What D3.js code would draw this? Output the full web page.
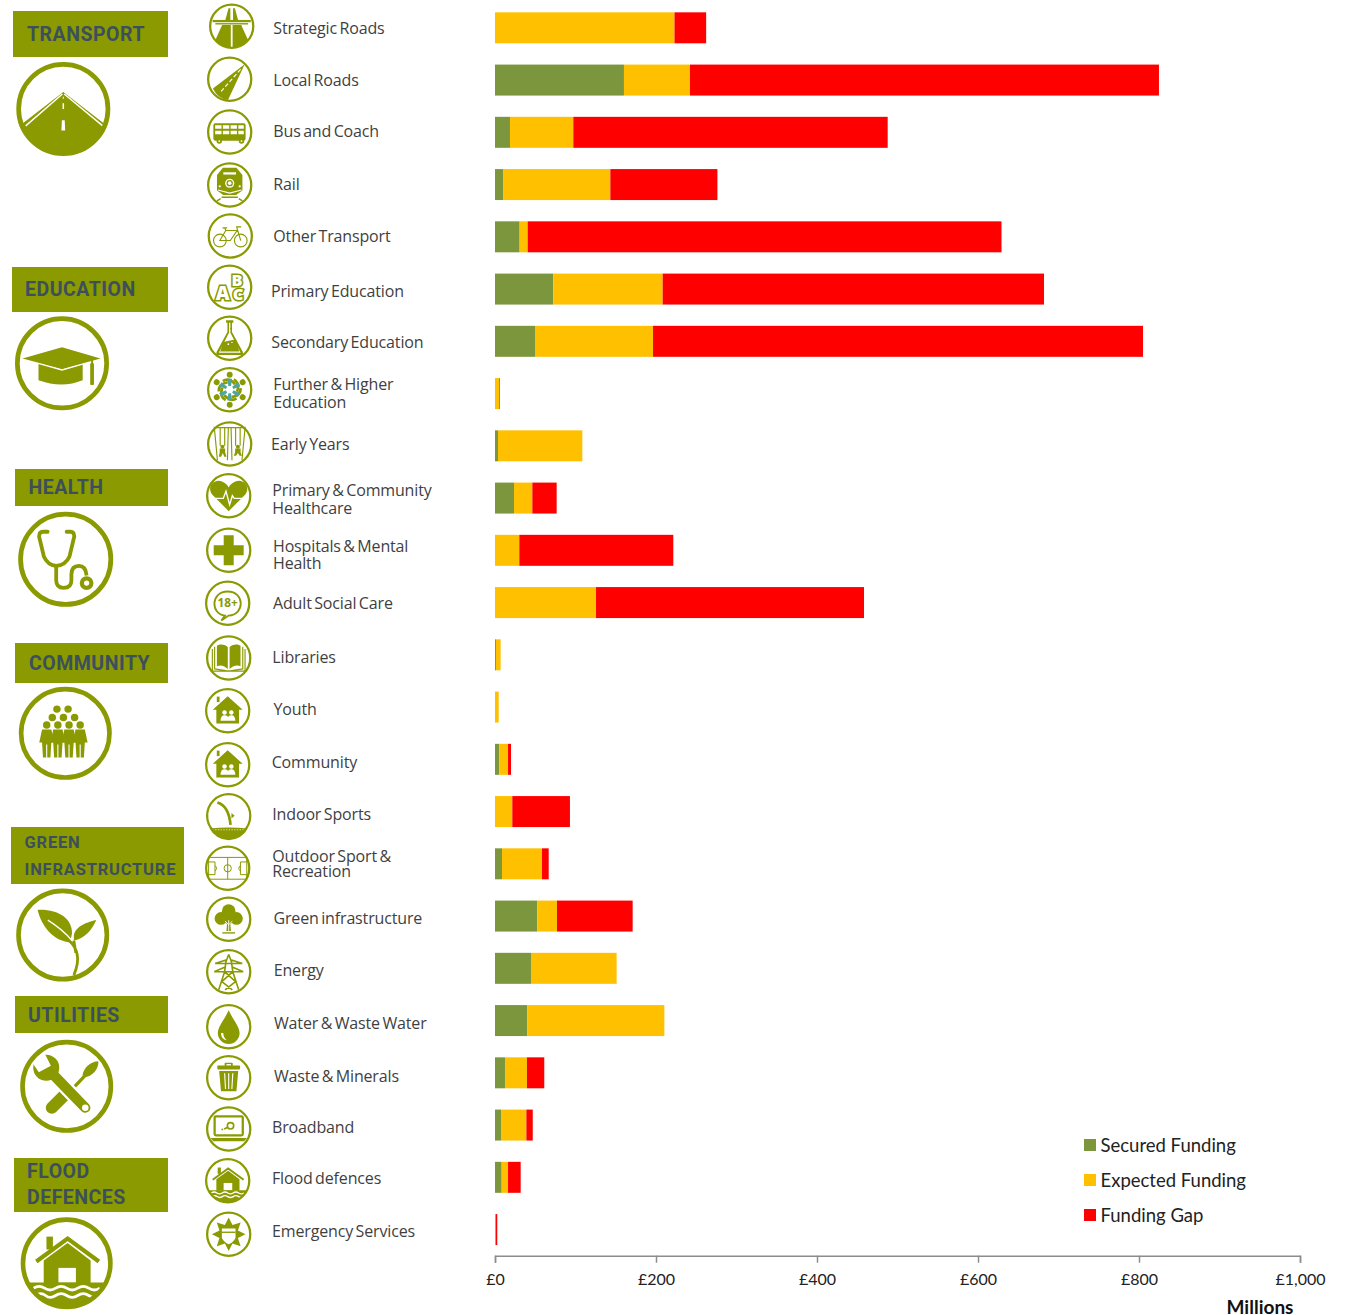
<!DOCTYPE html>
<html>
<head>
<meta charset="utf-8">
<script src="https://cdn.jsdelivr.net/npm/d3@7"></script>
<style>
    html, body { margin: 0; padding: 0; background: #fff; overflow: hidden; }
    svg { display: block; }
    .icon { fill: #8a9a00; }
    .icon .w { fill: #fff; }
    .icon .l { fill: none; stroke: #8a9a00; }
    .icon .lw { fill: none; stroke: #fff; }
    .rowLabel { font-family: "Open Sans"; font-size: 16px; letter-spacing: -0.15px; word-spacing: -1.5px; fill: #3f3f3f; }
    .panelLabel { font-family: Roboto; font-weight: 700; fill: #3c4f5c; }
    .x.axis text { font-family: Lato; font-size: 16px; fill: #222; }
    .x.axis path, .x.axis line { stroke: #8c8c8c; stroke-width: 1.5; }
    .legendLabel { font-family: Lato; font-size: 18.5px; fill: #222; }
</style>
</head>
<body>
<div id="chart"></div>
<script>
// values in GBP millions
var categories = ["Strategic Roads", "Local Roads", "Bus and Coach", "Rail", "Other Transport",
    "Primary Education", "Secondary Education", "Further & Higher Education", "Early Years",
    "Primary & Community Healthcare", "Hospitals & Mental Health", "Adult Social Care",
    "Libraries", "Youth", "Community", "Indoor Sports", "Outdoor Sport & Recreation",
    "Green infrastructure", "Energy", "Water & Waste Water", "Waste & Minerals",
    "Broadband", "Flood defences", "Emergency Services"];
var secured = [0, 160.2, 18.6, 10, 30.6, 72.5, 49.7, 0, 3.7, 23.6, 0, 0,
    1.2, 0, 5.4, 0, 8.7, 52.6, 44.7, 40.2, 12.4, 7.5, 8.3, 0];
var expected = [223, 82, 78.7, 133.3, 10, 135.8, 146.6, 5, 104.8, 22.8, 30.2, 125.5,
    5.8, 4.6, 10.8, 21.5, 49.7, 24.4, 106.4, 170.2, 27.3, 31.5, 7.9, 0.8];
var gap = [39.3, 582.6, 390.5, 133, 588.6, 473.7, 608.7, 0.8, 0, 30.2, 191.3, 332.9,
    0, 0, 3.7, 71.6, 8.3, 94, 0, 0, 21.5, 7.9, 15.7, 2];
var seriesNames = ["Secured Funding", "Expected Funding", "Funding Gap"];
var seriesColors = ["#7b963c", "#ffc000", "#ff0000"];
var xTicks = [0, 200, 400, 600, 800, 1000];

// where the picture puts each row's icon and label, same order as categories
var rowIcons = ["strategic", "local", "bus", "rail", "bike", "abc", "flask", "circle", "swing", "heart", "plus", "adult",
    "book", "house", "house", "diver", "pitch", "tree", "pylon", "drop", "bin", "laptop", "flood", "badge"];
var iconX = [231.7, 229.7, 229.7, 229.7, 230.3, 229.7, 229.7, 229.7, 229.7, 228.7, 228.7, 227.7,
    228.7, 227.7, 227.7, 228.7, 227.7, 228.7, 228.7, 228.7, 228.7, 228.7, 227.7, 228.7];
var iconY = [26.3, 79.3, 132, 185, 236, 287.3, 338.3, 389.7, 444, 495.7, 550.3, 603.3,
    658, 710.7, 764.7, 815.7, 868.3, 919.3, 971.7, 1026.7, 1077.7, 1129, 1180.7, 1234.3];
var labelX = [273.3, 273.3, 273.3, 273.3, 273.3, 271, 271.3, 273.3, 271, 272.3, 273, 273,
    272.3, 273.5, 271.7, 272.3, 272.3, 273.5, 273.7, 274, 274, 272, 272, 272];
var labelLines = [["Strategic Roads"], ["Local Roads"], ["Bus and Coach"], ["Rail"], ["Other Transport"],
    ["Primary Education"], ["Secondary Education"], ["Further & Higher", "Education"], ["Early Years"],
    ["Primary & Community", "Healthcare"], ["Hospitals & Mental", "Health"], ["Adult Social Care"],
    ["Libraries"], ["Youth"], ["Community"], ["Indoor Sports"], ["Outdoor Sport &", "Recreation"],
    ["Green infrastructure"], ["Energy"], ["Water & Waste Water"], ["Waste & Minerals"],
    ["Broadband"], ["Flood defences"], ["Emergency Services"]];
var labelBase = [[34], [86], [137], [190], [242], [297], [348], [390, 408], [450], [496, 514], [552, 569], [609],
    [663], [715], [768], [820], [862, 877], [924], [976], [1029], [1082], [1133], [1184], [1237]];

// left hand theme panels
var panels = [
    { lines: ["TRANSPORT"], x: 13, y: 11, w: 155, h: 46, tx: 27, base: [41], size: 19.5, ls: 0.5, icon: "road", cx: 63.3, cy: 109, r: 47 },
    { lines: ["EDUCATION"], x: 12, y: 267, w: 156, h: 45, tx: 25, base: [296], size: 19.5, ls: 0.5, icon: "cap", cx: 62, cy: 363.3, r: 47 },
    { lines: ["HEALTH"], x: 15, y: 469, w: 153, h: 37, tx: 28.5, base: [494], size: 19.5, ls: 0.5, icon: "stetho", cx: 65.7, cy: 559.3, r: 47.5 },
    { lines: ["COMMUNITY"], x: 15, y: 643, w: 153, h: 40, tx: 29, base: [670], size: 19.5, ls: 0.5, icon: "people", cx: 65.3, cy: 733.3, r: 46.5 },
    { lines: ["GREEN", "INFRASTRUCTURE"], x: 11, y: 827, w: 173, h: 57, tx: 24.5, base: [848, 875], size: 16.5, ls: 0.8, icon: "leaf", cx: 62.7, cy: 935, r: 46.5 },
    { lines: ["UTILITIES"], x: 15, y: 996, w: 153, h: 37, tx: 28, base: [1022], size: 19.5, ls: 0.5, icon: "tools", cx: 66.7, cy: 1086.3, r: 46.5 },
    { lines: ["FLOOD", "DEFENCES"], x: 14, y: 1158, w: 154, h: 54, tx: 27, base: [1178, 1204], size: 19.5, ls: 0.5, icon: "flood", cx: 66.7, cy: 1263.3, r: 46 }
];

// icon artwork, drawn on a -50..50 box
function starPoints(n, r1, r2) {
    return d3.range(n * 2).map(function (i) {
        var a = i * Math.PI / n - Math.PI / 2, r = i % 2 ? r2 : r1;
        return (r * Math.cos(a)).toFixed(1) + "," + (r * Math.sin(a)).toFixed(1);
    }).join(" ");
}

function circlePeople() {
    return d3.range(6).map(function (i) {
        var a = i * 60;
        return '<g transform="rotate(' + a + ')"><circle cy="-33" r="6.5"/>' +
            '<path class="l" stroke-width="6" d="M-15,-19Q-2,-28 12,-12"/>' +
            '<path d="M-5,-24L5,-24L3,-8L-3,-8Z" style="fill:#4fa5a0"/></g>';
    }).join("");
}

function crowd() {
    var heads = '<circle cx="-9" cy="-26" r="4"/><circle cx="3" cy="-26" r="4"/>' +
        '<circle cx="-14" cy="-17" r="4"/><circle cx="-2" cy="-17" r="4"/><circle cx="10" cy="-17" r="4"/>';
    return heads + [-20, -8, 4, 16].map(function (x) {
        return '<circle cx="' + x + '" cy="-9" r="4"/>' +
            '<path d="M' + (x - 5) + ',-4L' + (x + 5) + ',-4L' + (x + 8) + ',10L' + (x + 5) + ',10L' + (x + 4) + ',26L' +
            (x + 0.6) + ',26L' + (x + 0.6) + ',12L' + (x - 0.6) + ',12L' + (x - 0.6) + ',26L' + (x - 4) + ',26L' +
            (x - 5) + ',10L' + (x - 8) + ',10Z"/>';
    }).join("");
}

function floodArt() {
    return '<path class="l" stroke-width="4.5" d="M-33,-2L1,-27L35,-2"/><rect x="-22" y="-29" width="7" height="14"/>' +
        '<path d="M-25,-3L1,-22L26,-3L26,22L-25,22Z"/><rect class="w" x="-9" y="5" width="19" height="16"/>' +
        '<path d="M-42,21L42,21A47,47,0,0,1,-42,21Z"/>' +
        '<path class="lw" stroke-width="3" d="M-36,27q6,-4 12,0t12,0t12,0t12,0t12,0t12,0"/>' +
        '<path class="lw" stroke-width="3" d="M-34,35q6,-4 11,0t11,0t12,0t12,0t12,0t11,0"/>';
}

function homeArt() {
    return '<rect x="-24" y="-31" width="6" height="12"/><path d="M0,-32L33,-2L25,-2L25,28L-25,28L-25,-2L-33,-2Z"/>' +
        '<circle class="w" cx="-7" cy="4" r="5"/><circle class="w" cx="8" cy="4" r="5"/>' +
        '<path class="w" d="M-16,22Q-15,10 -7,10Q0,10 1,14Q2,10 8,10Q16,10 17,22Z"/>';
}

var iconArt = {
    road: '<path d="M0,-18L-44,16A47,47,0,0,0,44,16Z"/><path class="lw" stroke-width="1.6" d="M-1,-16L-40,18M1,-16L42,18"/>' +
        '<path class="w" d="M-.5,-13h1v2h-1ZM-.8,-6h1.6v6h-1.6ZM-1.5,12h3l.5,11h-4Z"/>',
    strategic: '<path d="M-7,-40L-3,-40L-3,-14L-14,-14ZM7,-40L3,-40L3,-14L14,-14Z"/><rect x="-42" y="-14" width="84" height="5"/>' +
        '<rect x="-36" y="-7" width="72" height="3"/><path d="M-21,-3L-2,-3L-2,46A46,46,0,0,1,-36,30ZM21,-3L2,-3L2,46A46,46,0,0,0,36,30Z"/>',
    local: '<path d="M33,-33L-37,20A46,46,0,0,0,-4,46Z"/><path class="lw" stroke-width="2.5" stroke-dasharray="9 5" d="M24,-22L-20,28"/>',
    bus: '<rect x="-36" y="-19" width="71" height="38" rx="4"/>' +
        '<path class="w" d="M-32,-15h14v8h-14ZM-15,-15h14v8h-14ZM2,-15h14v8h-14ZM19,-15h12v8h-12ZM-32,-3h14v8h-14ZM-15,-3h14v8h-14ZM2,-3h14v8h-14ZM19,-3h12v8h-12Z"/>' +
        '<circle cx="-23" cy="20" r="6"/><circle cx="26" cy="20" r="6"/><circle class="w" cx="-23" cy="20" r="2"/><circle class="w" cx="26" cy="20" r="2"/>',
    rail: '<path d="M-15,-38L15,-38L28,-22L28,12L14,22L-14,22L-28,12L-28,-22Z"/><rect class="w" x="-14" y="-28" width="28" height="5"/>' +
        '<circle class="w" cy="-4" r="10"/><circle cy="-4" r="7"/><circle class="w" cy="-4" r="4"/>' +
        '<circle class="w" cx="-22" cy="3" r="2.5"/><circle class="w" cx="22" cy="3" r="2.5"/><path class="lw" stroke-width="2.5" d="M-26,11L0,18L26,11"/>' +
        '<path class="l" stroke-width="3" d="M-28,35L-20,30M28,35L20,30M-18,27L18,27"/>',
    bike: '<g class="l" stroke-width="2.5"><circle class="l" cx="-23" cy="10" r="14"/><circle class="l" cx="23" cy="10" r="14"/>' +
        '<path class="l" d="M-23,10L-10,-12L15,-12L0,10ZM-23,10L0,10M23,10L14,-20L24,-20M-10,-12L-12,-18M-17,-18L-7,-18"/></g>',
    abc: '<g style="font-family:\'Open Sans\';font-weight:800;paint-order:stroke">' +
        '<text class="w" stroke="#8a9a00" stroke-width="7" x="4" y="-3" font-size="36">B</text>' +
        '<text class="w" stroke="#8a9a00" stroke-width="7" x="-31" y="28" font-size="42">A</text>' +
        '<text class="w" stroke="#8a9a00" stroke-width="7" x="7" y="29" font-size="36">C</text></g>',
    flask: '<path d="M-8,-40L8,-40L8,-34L5,-34L5,-14L29,30Q31,37 24,37L-24,37Q-31,37 -29,30L-5,-14L-5,-34L-8,-34Z"/>' +
        '<path class="w" d="M-1.5,-34L1.5,-34L1.5,-12L24,32L-24,32L-1.5,-12Z"/><path d="M-14,8L14,2L21,29L-21,29Z"/><circle class="w" cx="-3" cy="13" r="2"/><circle class="w" cx="5" cy="9" r="1.5"/><circle cx="2" cy="-22" r="1.5"/>',
    circle: circlePeople(),
    swing: '<path class="l" stroke-width="2.5" d="M-32,-36L32,-36M-34,-38L-27,36M34,-38L27,36M-3,-36L-5,36M3,-36L5,36M-21,-36L-21,4M-11,-36L-11,4M13,-36L13,4M23,-36L23,4"/>' +
        '<circle cx="-16" cy="6" r="4.5"/><circle cx="18" cy="6" r="4.5"/><path d="M-22,10L-10,10L-10,18L-7,28L-12,28L-15,20L-19,28L-24,28L-22,18ZM12,10L24,10L24,18L27,26L22,26L18,20L14,26L9,26L12,18Z"/>',
    heart: '<path d="M0,34L-36,-2C-50,-20 -32,-38 -16,-32C-8,-29 -2,-24 0,-18C2,-24 8,-29 16,-32C32,-38 50,-20 36,-2Z"/>' +
        '<path class="lw" stroke-width="3" d="M-46,6L-12,6L-6,-10L2,20L8,0L12,6L46,6"/>',
    plus: '<path d="M-11,-33H11V-11H33V11H11V33H-11V11H-33V-11H-11Z"/>',
    adult: '<path class="l" stroke-width="4" d="M-6,27C-38,24 -38,-26 0,-26C38,-26 38,26 2,27L-14,38Z"/>' +
        '<text x="0" y="9" text-anchor="middle" font-size="26" font-weight="700" style="font-family:\'Open Sans\'">18+</text>',
    book: '<path d="M-2,-24C-12,-32 -20,-30 -26,-27L-26,18C-18,15 -10,17 -2,24ZM2,-24C12,-32 20,-30 26,-27L26,18C18,15 10,17 2,24Z"/>' +
        '<path class="l" stroke-width="2.5" d="M-31,-25L-31,24L-4,28L4,28L31,24L31,-25M-36,-20L-36,29L36,29L36,-20"/>',
    house: homeArt(),
    diver: '<path class="l" stroke-width="6" d="M-25,-29Q0,-22 4,20"/><path d="M6,-6L13,0L6,6Z"/><path d="M-42,28Q0,24 42,28A47,47,0,0,1,-42,28Z"/>' +
        '<path class="lw" stroke-width="1.5" stroke-dasharray="3 3" d="M-36,31L36,31"/>',
    pitch: '<g><rect class="l" stroke-width="2.2" x="-42" y="-24" width="84" height="48"/><path class="l" stroke-width="2.2" d="M0,-24V24M-42,-14H-28V14H-42M42,-14H28V14H42M-28,-6Q-21,0 -28,6M28,-6Q21,0 28,6"/><circle class="l" stroke-width="2.2" r="8"/></g>',
    tree: '<circle cy="-18" r="15"/><circle cx="-17" cy="-2" r="14"/><circle cx="17" cy="-2" r="14"/><circle cy="-4" r="14"/>' +
        '<path d="M-3,4L3,4L5,26L-5,26Z"/><path class="lw" stroke-width="2" d="M0,26L0,2M0,12L-8,4M0,12L8,4"/><path class="l" stroke-width="3" d="M-14,30L14,30"/>',
    pylon: '<path class="l" stroke-width="3.5" d="M0,-38L-6,-22L-9,0L-22,40M0,-38L6,-22L9,0L22,40M-30,-18L30,-18M-30,-18L-6,-26M30,-18L6,-26M-32,0L32,0M-32,0L-9,-10M32,0L9,-10M-9,0L15,22M9,0L-15,22M-15,22L8,40M15,22L-8,40"/>',
    drop: '<path d="M0,-36C10,-14 24,0 24,14A24,24,0,0,1,-24,14C-24,0 -10,-14 0,-36Z"/><path class="w" d="M-17,14Q-17,28 -4,30Q-12,24 -12,14Z"/>',
    bin: '<rect x="-9" y="-33" width="18" height="7" rx="2"/><rect class="w" x="-5" y="-30" width="10" height="4"/><rect x="-25" y="-27" width="50" height="9" rx="2"/>' +
        '<path d="M-21,-15L21,-15L17,30L-17,30Z"/><path class="lw" stroke-width="2.5" d="M-9,-10L-7,25M0,-10L0,25M9,-10L7,25"/>',
    laptop: '<rect class="l" stroke-width="5" x="-31" y="-28" width="62" height="42" rx="3"/><path d="M-40,20L40,20L34,27L-34,27Z"/>' +
        '<circle class="l" stroke-width="3.5" cx="4" cy="-7" r="7"/><path class="l" stroke-width="3.5" d="M-2,-4L-10,0"/><circle cx="-14" cy="1" r="2"/>',
    flood: floodArt(),
    badge: '<polygon points="' + starPoints(8, 37, 22) + '"/><path class="w" d="M-15,-13L15,-13L15,8Q10,18 0,22Q-10,18 -15,8Z"/><rect x="-15" y="-6" width="30" height="3"/>',
    cap: '<path d="M-25,0L22,0L22,18Q0,27 -25,18Z"/><path class="lw" stroke-width="2" d="M-42,-5L0,7L41,-5"/>' +
        '<path d="M-42,-5L0,-17L41,-5L0,6Z"/><rect x="30" y="0" width="4" height="23" rx="1"/><rect x="31" y="-4" width="2" height="6"/>',
    stetho: '<g class="l"><path class="l" stroke-width="4" stroke-linecap="round" d="M-19,-29L-24,-29Q-28,-29 -28,-24L-23,-3Q-19,6 -10,7Q0,6 4,-3L9,-24Q9,-29 5,-29L1,-29"/>' +
        '<path class="l" stroke-width="4" d="M-10,7L-10,22Q-10,30 -2,30Q6,30 6,22L6,16Q6,7 14,7Q21,7 22,17"/><circle class="l" stroke-width="4.5" cx="22" cy="25" r="5"/></g>',
    people: crowd(),
    leaf: '<path class="l" stroke-width="3" d="M12,43C20,24 15,14 7,6M14,19L12,6"/><path d="M-27,-27C-5,-28 10,-18 10,-2L8,8C-10,6 -22,-8 -27,-27Z"/>' +
        '<path d="M36,-16C28,-14 14,-10 12,0L12,6C24,4 32,-6 36,-16Z"/><path class="lw" stroke-width="1.5" d="M-16,-16Q0,-6 10,6"/>',
    tools: '<path class="l" stroke-width="13" stroke-linecap="round" d="M-16,23L-2,9"/><path class="l" stroke-width="3.5" d="M8,1L22,-14"/>' +
        '<path d="M17,-12C18,-20 26,-27 34,-27C35,-19 27,-10 19,-10Z"/><path class="lw" stroke-width="16" d="M-14,-12L20,23"/>' +
        '<path class="l" stroke-width="11" stroke-linecap="round" d="M-14,-12L20,23"/><circle cx="-22" cy="-20" r="14"/><path class="w" d="M-25,-38L-17,-22L-30,-15L-40,-30Z"/>' +
        '<circle class="w" cx="20" cy="23" r="3.5"/>'
};

function drawIcon(parent, name, cx, cy, r) {
    var g = parent.append("g")
        .attr("class", "icon")
        .attr("transform", "translate(" + cx + "," + cy + ") scale(" + r / 50 + ")");
    g.html(iconArt[name]);
    g.append("circle")
        .attr("class", "l")
        .attr("r", 47.5)
        .attr("stroke-width", 5);
}

function drawChart() {
    var width = 1346,
        height = 1315;

    var svg = d3.select("#chart").append("svg")
        .attr("width", width)
        .attr("height", height);

    // scales
    var x = d3.scaleLinear().domain([0, 1000]).range([495, 1300]);
    var y = d3.scaleBand().domain(categories).range([1.7, 1255.7]).paddingInner(0.407).paddingOuter(0.2035);

    // stacked bars
    var rows = categories.map(function (c, i) {
        return { category: c, "Secured Funding": secured[i], "Expected Funding": expected[i], "Funding Gap": gap[i] };
    });
    var stack = d3.stack().keys(seriesNames)(rows);

    svg.selectAll(".series")
        .data(stack)
        .enter().append("g")
        .attr("class", "series")
        .attr("fill", function (d, i) { return seriesColors[i]; })
        .selectAll("rect")
        .data(function (d) { return d; })
        .enter().append("rect")
        .attr("x", function (d) { return x(d[0]); })
        .attr("y", function (d) { return y(d.data.category); })
        .attr("width", function (d) { return x(d[1]) - x(d[0]); })
        .attr("height", y.bandwidth());

    // x axis
    var xAxis = d3.axisBottom(x)
        .tickValues(xTicks)
        .tickSize(7)
        .tickPadding(11)
        .tickFormat(function (d) { return "£" + d3.format(",")(d); });

    svg.append("g")
        .attr("class", "x axis")
        .attr("transform", "translate(0,1255.7)")
        .call(xAxis);

    svg.append("text")
        .attr("x", 1260)
        .attr("y", 1314)
        .attr("text-anchor", "middle")
        .style("font-family", "Lato")
        .style("font-weight", 700)
        .style("font-size", "19px")
        .style("fill", "#111")
        .text("Millions");

    // legend
    var legend = svg.selectAll(".legendItem")
        .data(seriesNames)
        .enter().append("g")
        .attr("class", "legendItem")
        .attr("transform", function (d, i) { return "translate(1084," + (1139 + i * 35) + ")"; });

    legend.append("rect")
        .attr("width", 12)
        .attr("height", 12)
        .attr("fill", function (d, i) { return seriesColors[i]; });

    legend.append("text")
        .attr("class", "legendLabel")
        .attr("x", 16.5)
        .attr("y", 12.5)
        .text(function (d) { return d; });

    // row icons and labels
    categories.forEach(function (c, i) {
        drawIcon(svg, rowIcons[i], iconX[i], iconY[i], 22.7);
        labelLines[i].forEach(function (line, j) {
            svg.append("text")
                .attr("class", "rowLabel")
                .attr("x", labelX[i])
                .attr("y", labelBase[i][j])
                .text(line);
        });
    });

    // theme panels
    panels.forEach(function (p) {
        svg.append("rect")
            .attr("x", p.x)
            .attr("y", p.y)
            .attr("width", p.w)
            .attr("height", p.h)
            .attr("fill", "#8a9a00");
        p.lines.forEach(function (line, j) {
            svg.append("text")
                .attr("class", "panelLabel")
                .attr("x", p.tx)
                .attr("y", p.base[j])
                .style("font-size", p.size + "px")
                .style("letter-spacing", p.ls + "px")
                .text(line);
        });
        drawIcon(svg, p.icon, p.cx, p.cy, p.r);
    });
}

drawChart();
</script>
</body>
</html>
